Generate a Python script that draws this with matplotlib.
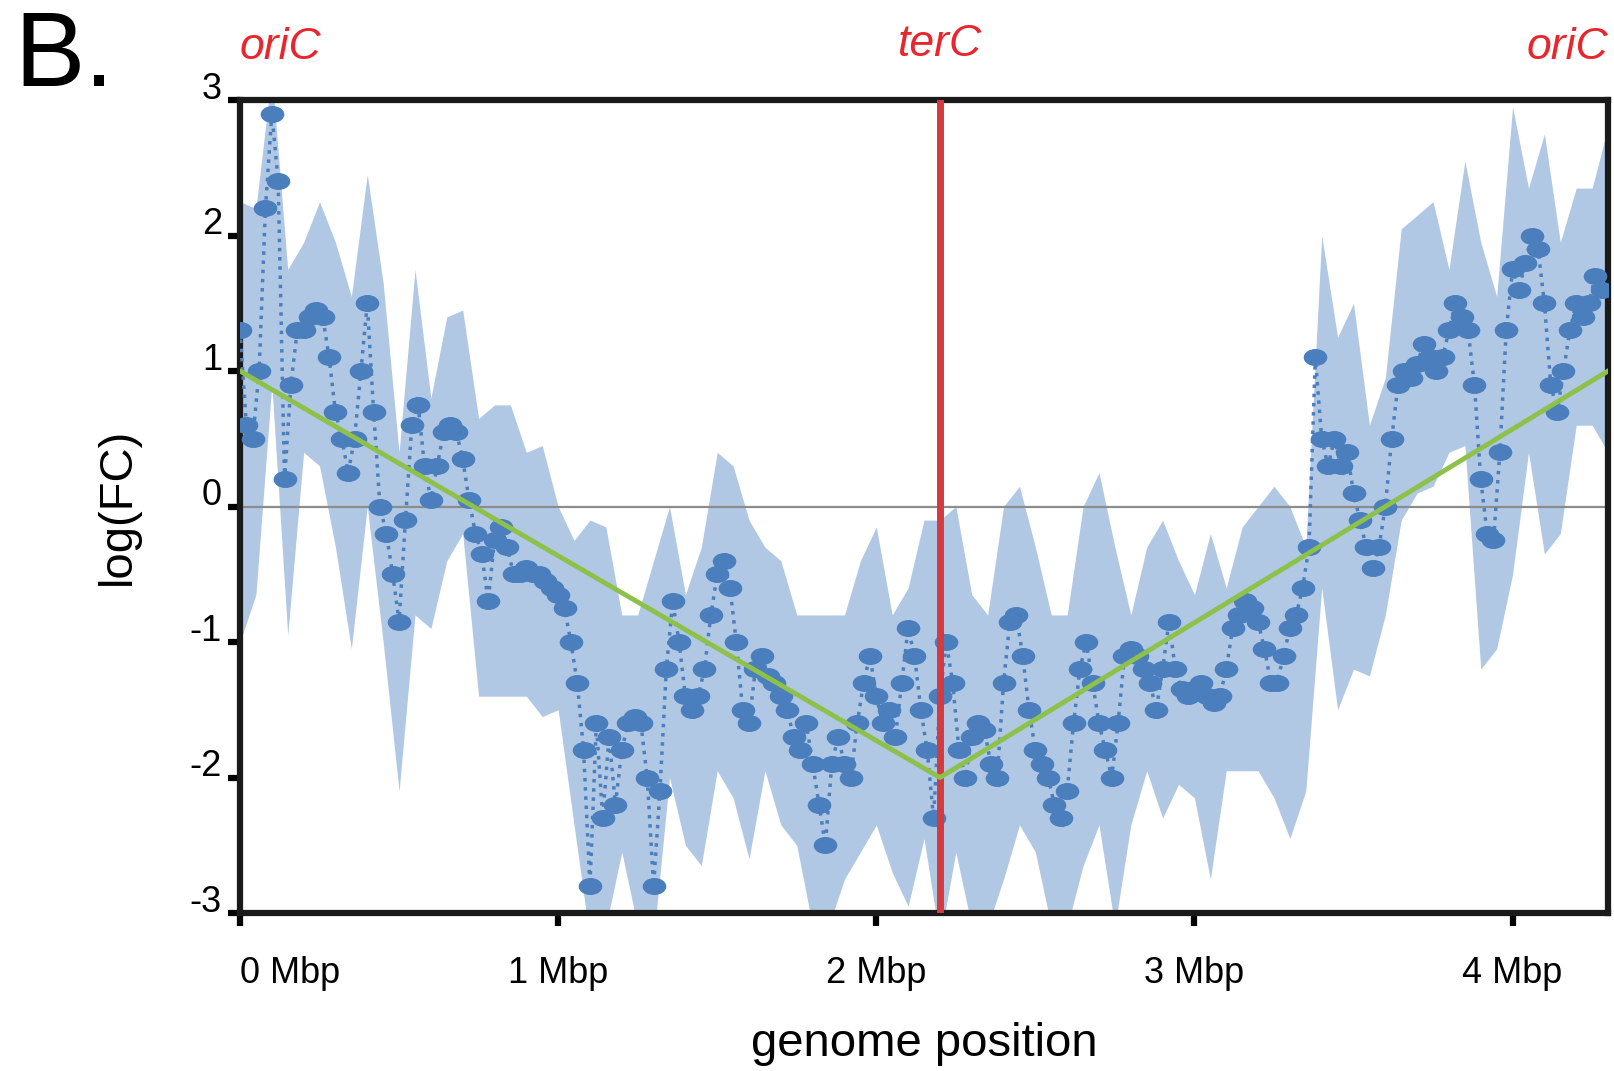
import matplotlib
matplotlib.use("Agg")
import matplotlib.pyplot as plt
import matplotlib.transforms as mtransforms
from matplotlib.path import Path
import numpy as np

plt.rcParams["font.family"] = ["Liberation Sans", "DejaVu Sans"]
plt.rcParams["axes.unicode_minus"] = False

# log fold change, sampled every 0.02 Mbp along the genome
genome_mbp = np.round(np.arange(0, 4.29, 0.02), 2)
log_fc = [
    1.3, 0.6, 0.5, 1.0, 2.2, 2.9, 2.4, 0.2, 0.9, 1.3,
    1.3, 1.4, 1.45, 1.4, 1.1, 0.7, 0.5, 0.25, 0.5, 1.0,
    1.5, 0.7, 0.0, -0.2, -0.5, -0.85, -0.1, 0.6, 0.75, 0.3,
    0.05, 0.3, 0.55, 0.6, 0.55, 0.35, 0.05, -0.2, -0.35, -0.7,
    -0.25, -0.15, -0.3, -0.5, -0.5, -0.45, -0.5, -0.5, -0.55, -0.6,
    -0.65, -0.75, -1.0, -1.3, -1.8, -2.8, -1.6, -2.3, -1.7, -2.2,
    -1.8, -1.6, -1.55, -1.6, -2.0, -2.8, -2.1, -1.2, -0.7, -1.0,
    -1.4, -1.5, -1.4, -1.2, -0.8, -0.5, -0.4, -0.6, -1.0, -1.5,
    -1.6, -1.2, -1.1, -1.25, -1.3, -1.4, -1.5, -1.7, -1.8, -1.6,
    -1.9, -2.2, -2.5, -1.9, -1.7, -1.9, -2.0, -1.6, -1.3, -1.1,
    -1.4, -1.6, -1.5, -1.7, -1.3, -0.9, -1.1, -1.5, -1.8, -2.3,
    -1.4, -1.0, -1.3, -1.8, -2.0, -1.7, -1.6, -1.65, -1.9, -2.0,
    -1.3, -0.85, -0.8, -1.1, -1.5, -1.8, -1.9, -2.0, -2.2, -2.3,
    -2.1, -1.6, -1.2, -1.0, -1.3, -1.6, -1.8, -2.0, -1.6, -1.1,
    -1.05, -1.1, -1.2, -1.3, -1.5, -1.2, -0.85, -1.2, -1.35, -1.4,
    -1.35, -1.3, -1.4, -1.45, -1.4, -1.2, -0.9, -0.8, -0.7, -0.75,
    -0.85, -1.05, -1.3, -1.3, -1.1, -0.9, -0.8, -0.6, -0.3, 1.1,
    0.5, 0.3, 0.5, 0.3, 0.4, 0.1, -0.1, -0.3, -0.45, -0.3,
    0.0, 0.5, 0.9, 1.0, 0.95, 1.05, 1.2, 1.1, 1.0, 1.1,
    1.3, 1.5, 1.4, 1.3, 0.9, 0.2, -0.2, -0.25, 0.4, 1.3,
    1.75, 1.6, 1.8, 2.0, 1.9, 1.5, 0.9, 0.7, 1.0, 1.3,
    1.5, 1.4, 1.5, 1.7, 1.6,
]

# spread of replicates, sampled every 0.05 Mbp
band_mbp = np.round(np.arange(0, 4.31, 0.05), 2)
band_hi = [
    2.25, 2.2, 3.2, 1.75, 1.95, 2.25, 1.95, 1.55, 2.45, 1.65,
    0.4, 1.75, 0.8, 1.4, 1.45, 0.65, 0.75, 0.75, 0.4, 0.45,
    0.0, -0.25, -0.1, -0.15, -0.8, -0.8, -0.4, 0.0, -0.65, -0.3,
    0.4, 0.3, -0.1, -0.3, -0.4, -0.8, -0.8, -0.8, -0.8, -0.4,
    -0.15, -0.8, -0.6, -0.1, -0.1, 0.0, -0.65, -0.8, 0.0, 0.15,
    -0.3, -0.8, -0.8, 0.0, 0.25, -0.3, -0.8, -0.3, -0.1, -0.4,
    -0.65, -0.2, -0.6, -0.15, 0.0, 0.15, 0.0, -0.3, 2.0, 1.25,
    1.5, 0.6, 0.95, 2.05, 2.15, 2.25, 1.75, 2.55, 1.95, 1.55,
    2.95, 2.35, 2.75, 1.95, 2.35, 2.35, 2.8,
]
band_lo = [
    -1.0, -0.65, 0.9, -0.95, 0.4, 0.3, -0.3, -1.05, 0.0, -1.0,
    -2.1, -0.8, -0.9, -0.4, -0.2, -1.4, -1.4, -1.4, -1.4, -1.55,
    -1.5, -2.35, -3.2, -3.1, -2.55, -3.1, -3.2, -2.0, -2.5, -2.65,
    -1.95, -2.15, -2.6, -1.95, -2.35, -2.5, -3.1, -3.1, -2.75, -2.55,
    -2.35, -2.7, -2.95, -2.45, -3.2, -2.55, -3.1, -3.1, -2.75, -2.35,
    -2.55, -3.1, -3.1, -2.65, -2.35, -3.1, -2.35, -1.95, -2.3, -2.05,
    -2.15, -2.75, -1.95, -1.95, -1.95, -2.15, -2.45, -2.1, -0.6, -1.5,
    -1.2, -1.25, -0.8, -0.1, 0.1, 0.15, 0.4, 0.45, -1.2, -1.05,
    -0.5, 0.4, -0.35, -0.2, 0.6, 0.6, 0.4,
]

# expected replication gradient, oriC -> terC -> oriC
model_mbp = [0.0, 2.2, 4.3]
model_fc = [1.0, -2.0, 1.0]
ter_mbp = 2.2

x_ticks = [0, 1, 2, 3, 4]
x_labels = ["0 Mbp", "1 Mbp", "2 Mbp", "3 Mbp", "4 Mbp"]
y_ticks = [-3, -2, -1, 0, 1, 2, 3]
y_labels = ["-3", "-2", "-1", "0", "1", "2", "3"]

# flattened dots like in the original export
ellipse = Path.unit_circle().transformed(mtransforms.Affine2D().scale(1.0, 0.72))

fig = plt.figure(figsize=(16.14, 10.71), dpi=100)
ax = fig.add_axes([0.1487, 0.1475, 0.8476, 0.7591])

ax.fill_between(band_mbp, band_lo, band_hi, color="#b1c8e4", lw=0, zorder=1)
ax.axhline(0, color="#8c8c8c", lw=1.6, zorder=2)
ax.plot(genome_mbp, log_fc, linestyle=":", color="#4a7ebd", lw=2.5,
        marker=ellipse, ms=17, mec="none", mfc="#4a7ebd", zorder=3)
ax.axvline(ter_mbp, color="#d23b3f", lw=5, zorder=4)
ax.plot(model_mbp, model_fc, color="#8dc14a", lw=3.5, zorder=5)

ax.set_xlim(0, 4.3)
ax.set_ylim(-3, 3)
ax.set_xticks(x_ticks)
ax.set_xticklabels(x_labels, fontsize=26)
ax.get_xticklabels()[0].set_horizontalalignment("left")
ax.set_yticks(y_ticks)
ax.set_yticklabels(y_labels, fontsize=26)
ax.tick_params(axis="both", direction="out", length=9, width=4.5, color="black")
ax.tick_params(axis="x", pad=22)
ax.tick_params(axis="y", pad=4)
shift_up = mtransforms.ScaledTranslation(0, 10.5 / 72, fig.dpi_scale_trans)
for lab in ax.get_yticklabels():
    lab.set_transform(lab.get_transform() + shift_up)
for sp in ax.spines.values():
    sp.set_linewidth(4.5)
    sp.set_color("#1a1a1a")

ax.set_xlabel("genome position", fontsize=34, labelpad=22)
ax.set_ylabel("log(FC)", fontsize=34, labelpad=36)

red = "#e8262d"
ax.text(0.0, 1.04, "oriC", transform=ax.transAxes, color=red, fontsize=32,
        style="italic", ha="left", va="bottom")
ax.text(ter_mbp, 3.26, "terC", color=red, fontsize=32, style="italic",
        ha="center", va="bottom")
ax.text(1.0, 1.04, "oriC", transform=ax.transAxes, color=red, fontsize=32,
        style="italic", ha="right", va="bottom")
fig.text(0.009, 0.92, "B.", fontsize=76, ha="left", va="baseline")

fig.savefig("out.png", dpi=100)
